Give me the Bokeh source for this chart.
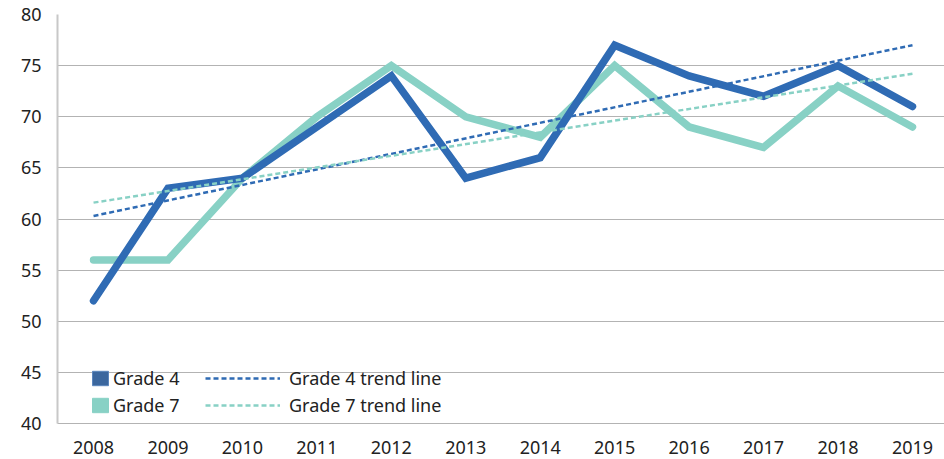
from bokeh.plotting import figure
from bokeh.models import Range1d, Legend, LegendItem, FixedTicker
from bokeh.embed import file_html
from bokeh.resources import INLINE

years = [2008, 2009, 2010, 2011, 2012, 2013, 2014, 2015, 2016, 2017, 2018, 2019]
grade4 = [52, 63, 64, 69, 74, 64, 66, 77, 74, 72, 75, 71]
grade7 = [56, 56, 64, 70, 75, 70, 68, 75, 69, 67, 73, 69]
trend_years = [2008, 2019]
trend4 = [60.3, 77.0]
trend7 = [61.6, 74.2]
y_ticks = [40, 45, 50, 55, 60, 65, 70, 75, 80]

C4 = "#2f6bb4"
C4_LEG = "#3b679e"
C7 = "#88d1c5"
FONT = "Noto Sans"

p = figure(width=944, height=459, output_backend="svg", toolbar_location=None,
           x_range=Range1d(2007.516, 2019.43), y_range=Range1d(40, 80),
           min_border_left=57, min_border_right=0, min_border_top=14, min_border_bottom=36)
p.outline_line_color = None
p.background_fill_color = "white"

p.xgrid.grid_line_color = None
p.ygrid.grid_line_color = "#b3b3b3"
p.ygrid.grid_line_width = 1
p.ygrid.ticker = FixedTicker(ticks=y_ticks)

p.yaxis.ticker = FixedTicker(ticks=y_ticks)
p.xaxis.ticker = FixedTicker(ticks=years)
for ax in (p.xaxis, p.yaxis):
    ax.major_tick_line_color = None
    ax.minor_tick_line_color = None
    ax.major_label_text_font = FONT
    ax.major_label_text_font_size = "18px"
    ax.major_label_text_color = "#222222"
p.yaxis.axis_line_color = "#c8c8c8"
p.yaxis.axis_line_width = 2
p.yaxis.major_label_standoff = 10
p.xaxis.axis_line_color = "#b3b3b3"
p.xaxis.axis_line_width = 1
p.xaxis.major_label_standoff = 11

r7 = p.line(years, grade7, line_color=C7, line_width=7.5, line_join="miter", line_cap="round")
r4 = p.line(years, grade4, line_color=C4, line_width=7.5, line_join="miter", line_cap="round")
t4 = p.line(trend_years, trend4, line_color=C4, line_width=2.5, line_dash="5 3")
t7 = p.line(trend_years, trend7, line_color=C7, line_width=2.5, line_dash="5 3")

# legend-only patches placed outside the visible range
q4 = p.quad(left=[1990], right=[1991], bottom=[0], top=[1], fill_color=C4_LEG, line_color="#5b86bd")
q7 = p.quad(left=[1990], right=[1991], bottom=[0], top=[1], fill_color=C7, line_color=C7)

def style(leg):
    leg.background_fill_alpha = 0
    leg.border_line_color = None
    leg.padding = 0
    leg.margin = 0
    leg.spacing = 3
    leg.label_text_font = FONT
    leg.label_text_font_size = "18px"
    leg.label_text_color = "#222222"
    leg.label_height = 18
    leg.glyph_height = 18

leg1 = Legend(items=[LegendItem(label="Grade 4", renderers=[q4]),
                     LegendItem(label="Grade 7", renderers=[q7])],
              location=(33, 6))
style(leg1)
leg1.glyph_width = 20
leg1.label_standoff = 3

leg2 = Legend(items=[LegendItem(label="Grade 4 trend line", renderers=[t4]),
                     LegendItem(label="Grade 7 trend line", renderers=[t7])],
              location=(148, 6))
style(leg2)
leg2.glyph_width = 75
leg2.label_standoff = 9

p.add_layout(leg1)
p.add_layout(leg2)

open("out.html", "w").write(file_html(p, INLINE))
